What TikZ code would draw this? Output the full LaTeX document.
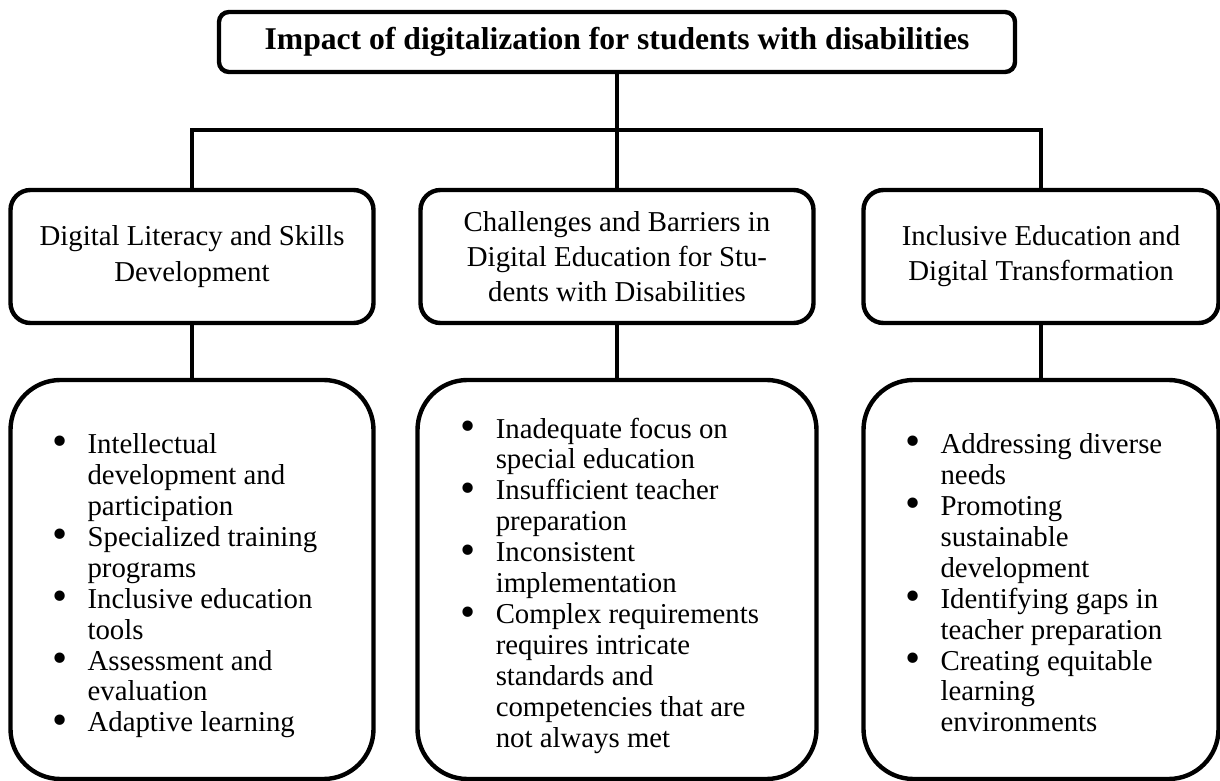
\documentclass[tikz,border=0pt]{standalone}
\usepackage{fontspec}
\setmainfont{Liberation Serif}
\usepackage{tikz}
\usetikzlibrary{positioning, calc}

\tikzset{
  titlebox/.style={draw, line width=1.1mm, rounded corners=2.5mm,
    minimum width=199mm, minimum height=15mm,
    font=\fontsize{22.5}{24}\selectfont\bfseries},
  catbox/.style={draw, line width=1.1mm, rounded corners=5mm,
    minimum height=33.25mm, align=center,
    font=\fontsize{20.5}{25}\selectfont},
  listbox/.style={draw, line width=1.1mm, rounded corners=12.5mm,
    minimum height=99.75mm},
  listtext/.style={inner sep=0pt, xshift=-1.75mm, yshift=-1.75mm,
    font=\fontsize{20.5}{22}\selectfont},
  link/.style={line width=1mm}
}
\newcommand{\dotmark}{$\vcenter{\hbox{\scalebox{1.5}{\textbullet}}}$}

\begin{document}
\begin{tikzpicture}[x=0.25mm, y=-0.25mm]
  \useasboundingbox (0,0) rectangle (1220,781);

  % タイトル
  \node[titlebox] (title) at (617,42) {Impact of digitalization for students with disabilities};

  % 中段の箱
  \node[catbox, minimum width=90.75mm] (literacy) at (192,256.5) {Digital Literacy and Skills\\Development};
  \node[catbox, minimum width=98.25mm] (barriers) at (617,256.5) {Challenges and Barriers in\\Digital Education for Stu-\\dents with Disabilities};
  \node[catbox, minimum width=88.75mm] (inclusive) at (1041,256.5) {Inclusive Education and\\Digital Transformation};

  % 下段の箱
  \node[listbox, minimum width=90.75mm] (skills) at (192,579.5) {};
  \node[listbox, minimum width=99.75mm] (issues) at (617,579.5) {};
  \node[listbox, minimum width=88.75mm] (goals) at (1041,579.5) {};

  % 箇条書き
  \node[listtext] (skillsitems) at (skills.center) {%
    \begin{tabular}{@{}l@{\hspace{14pt}}l@{}}
      \dotmark & Intellectual\\
               & development and\\
               & participation\\
      \dotmark & Specialized training\\
               & programs\\
      \dotmark & Inclusive education\\
               & tools\\
      \dotmark & Assessment and\\
               & evaluation\\
      \dotmark & Adaptive learning
    \end{tabular}};
  \node[listtext] (issuesitems) at (issues.center) {%
    \begin{tabular}{@{}l@{\hspace{14pt}}l@{}}
      \dotmark & Inadequate focus on\\
               & special education\\
      \dotmark & Insufficient teacher\\
               & preparation\\
      \dotmark & Inconsistent\\
               & implementation\\
      \dotmark & Complex requirements\\
               & requires intricate\\
               & standards and\\
               & competencies that are\\
               & not always met
    \end{tabular}};
  \node[listtext] (goalsitems) at (goals.center) {%
    \begin{tabular}{@{}l@{\hspace{14pt}}l@{}}
      \dotmark & Addressing diverse\\
               & needs\\
      \dotmark & Promoting\\
               & sustainable\\
               & development\\
      \dotmark & Identifying gaps in\\
               & teacher preparation\\
      \dotmark & Creating equitable\\
               & learning\\
               & environments
    \end{tabular}};

  % 接続線
  \coordinate (bar) at (617,130);
  \draw[link] (title.south) -- (bar);
  \draw[link] (literacy.north) |- (bar) -| (inclusive.north);
  \draw[link] (bar) -- (barriers.north);
  \draw[link] (literacy.south) -- (skills.north);
  \draw[link] (barriers.south) -- (issues.north);
  \draw[link] (inclusive.south) -- (goals.north);
\end{tikzpicture}
\end{document}
